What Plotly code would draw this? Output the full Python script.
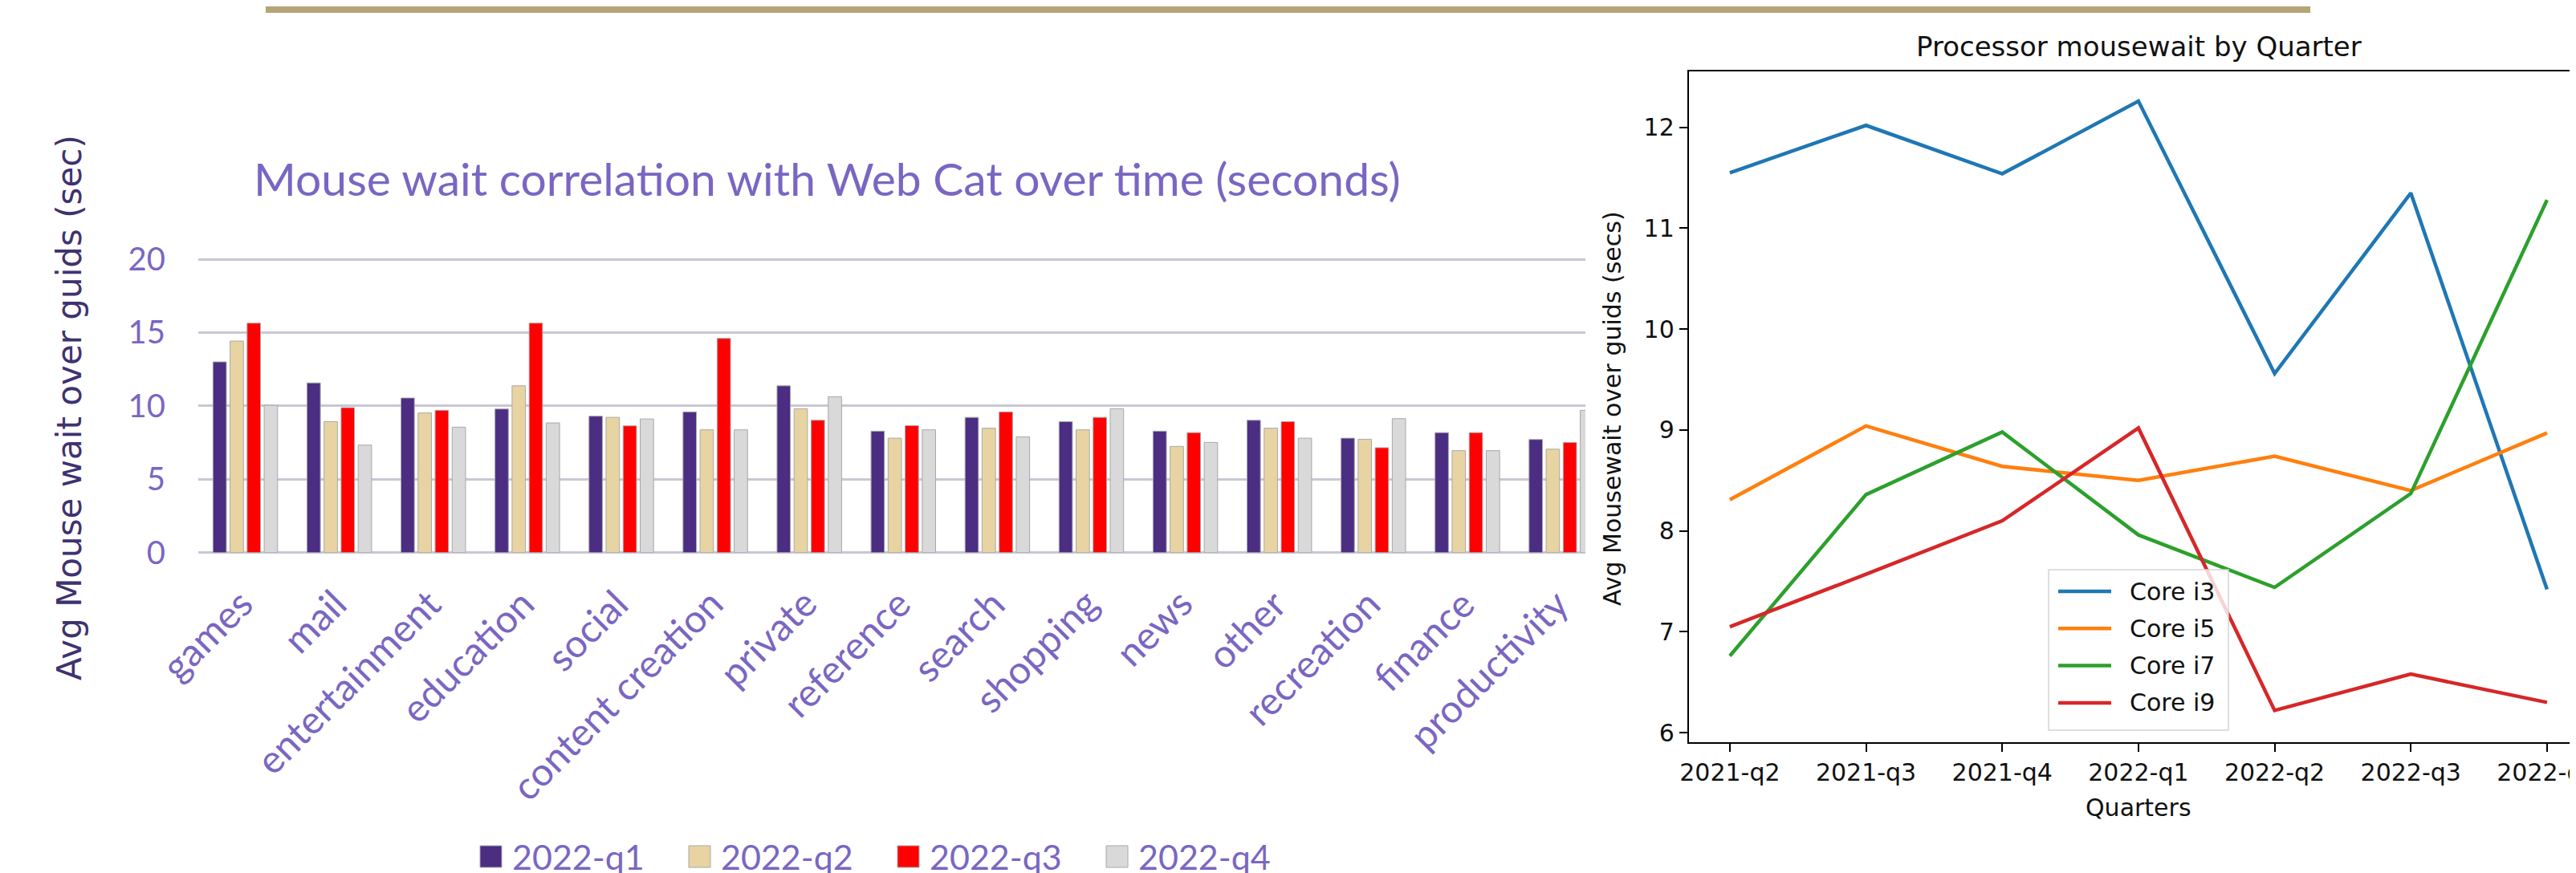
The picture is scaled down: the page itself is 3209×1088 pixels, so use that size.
import plotly.graph_objects as go

W, H = 3209, 1088

# ---------------- data: bar chart ----------------
categories = ["games", "mail", "entertainment", "education", "social", "content creation",
              "private", "reference", "search", "shopping", "news", "other", "recreation",
              "finance", "productivity"]
bar_series = ["2022-q1", "2022-q2", "2022-q3", "2022-q4"]
q1_vals = [13.0, 11.57, 10.54, 9.79, 9.30, 9.59, 11.37, 8.28, 9.22, 8.93, 8.28, 9.02, 7.80, 8.18, 7.71]
q2_vals = [14.42, 8.93, 9.52, 11.37, 9.22, 8.37, 9.81, 7.80, 8.48, 8.37, 7.24, 8.48, 7.73, 6.95, 7.05]
q3_vals = [15.64, 9.88, 9.70, 15.64, 8.64, 14.60, 9.02, 8.66, 9.59, 9.22, 8.18, 8.93, 7.15, 8.18, 7.51]
q4_vals = [10.04, 7.33, 8.55, 8.84, 9.11, 8.37, 10.63, 8.37, 7.89, 9.81, 7.51, 7.80, 9.13, 6.95, 9.70]
bar_values = [q1_vals, q2_vals, q3_vals, q4_vals]
bar_colors = ["#4b2d82", "#e8d4a2", "#ff0000", "#d9d9d9"]
bar_yticks = [0, 5, 10, 15, 20]

# ---------------- data: line chart ----------------
quarters = ["2021-q2", "2021-q3", "2021-q4", "2022-q1", "2022-q2", "2022-q3", "2022-q4"]
line_series = ["Core i3", "Core i5", "Core i7", "Core i9"]
core_i3 = [11.55, 12.02, 11.54, 12.26, 9.56, 11.35, 7.42]
core_i5 = [8.31, 9.04, 8.64, 8.50, 8.74, 8.40, 8.97]
core_i7 = [6.76, 8.36, 8.98, 7.96, 7.44, 8.37, 11.28]
core_i9 = [7.05, 7.57, 8.10, 9.02, 6.22, 6.58, 6.30]
line_values = [core_i3, core_i5, core_i7, core_i9]
line_colors = ["#1f77b4", "#ff7f0e", "#2ca02c", "#d62728"]
line_yticks = [6, 7, 8, 9, 10, 11, 12]


def px(x):
    return x / W


def py(y):
    return 1 - y / H


PURPLE = "#7a66c2"
DARKPURPLE = "#3f3270"
GRID = "#c9c7d5"

fig = go.Figure()

for name, vals, col in zip(bar_series, bar_values, bar_colors):
    fig.add_trace(go.Bar(
        x=categories, y=vals, name=name, marker=dict(color=col, line=dict(color="#a8a8a8", width=1)),
        xaxis="x", yaxis="y", showlegend=False,
    ))

for name, vals, col in zip(line_series, line_values, line_colors):
    fig.add_trace(go.Scatter(
        x=quarters, y=vals, name=name, mode="lines", line=dict(color=col, width=4.5),
        xaxis="x2", yaxis="y2", showlegend=False,
    ))

shapes = []
annotations = []

# decorative gold bar at top
shapes.append(dict(type="rect", xref="paper", yref="paper", x0=px(323), x1=px(2870), y0=py(8), y1=1,
                   fillcolor="#b5a476", line=dict(width=0), layer="below"))

# bar chart title
annotations.append(dict(text="Mouse wait correlation with Web Cat over time (seconds)", xref="paper", yref="paper",
                        x=px(1022), y=py(214), showarrow=False, xanchor="center", yanchor="middle",
                        font=dict(family="Lato", size=57, color=PURPLE)))
# bar chart y title
annotations.append(dict(text="Avg Mouse wait over guids (sec)", xref="paper", yref="paper",
                        x=px(79), y=py(500), showarrow=False, textangle=-90, xanchor="center", yanchor="middle",
                        font=dict(family="DejaVu Sans", size=42, color=DARKPURPLE)))

# category labels, rotated, anchored on the category axis
for cat in categories:
    annotations.append(dict(text=cat, xref="x", yref="paper", x=cat, y=py(712),
                            xshift=22, showarrow=False, textangle=-45, xanchor="right", yanchor="top",
                            font=dict(family="Lato", size=48, color=PURPLE)))

# bar chart legend (custom swatches)
for i, (name, col) in enumerate(zip(bar_series, bar_colors)):
    x0 = 590 + 260 * i
    shapes.append(dict(type="rect", xref="paper", yref="paper", x0=px(x0), x1=px(x0 + 27),
                       y0=py(1073), y1=py(1046), fillcolor=col, line=dict(color="#a8a8a8", width=1)))
    annotations.append(dict(text=name, xref="paper", yref="paper", x=px(x0 + 38), y=py(1059),
                            showarrow=False, xanchor="left", yanchor="middle",
                            font=dict(family="Lato", size=43, color=PURPLE)))

# line chart title
annotations.append(dict(text="Processor mousewait by Quarter", xref="paper", yref="paper",
                        x=px(2656), y=py(50), showarrow=False, xanchor="center", yanchor="middle",
                        font=dict(family="DejaVu Sans", size=34, color="#111111")))
# line chart y title
annotations.append(dict(text="Avg Mousewait over guids (secs)", xref="paper", yref="paper",
                        x=px(2000), y=py(501), showarrow=False, textangle=-90, xanchor="center", yanchor="middle",
                        font=dict(family="DejaVu Sans", size=30, color="#111111")))
# line chart x title
annotations.append(dict(text="Quarters", xref="paper", yref="paper",
                        x=px(2656), y=py(998), showarrow=False, xanchor="center", yanchor="middle",
                        font=dict(family="DejaVu Sans", size=30, color="#111111")))

# line chart legend (matplotlib style box)
shapes.append(dict(type="rect", xref="paper", yref="paper", x0=px(2544), x1=px(2768), y0=py(902), y1=py(702),
                   fillcolor="rgba(255,255,255,0.8)", line=dict(color="#d5d5d5", width=1.5), layer="above"))
for i, (name, col) in enumerate(zip(line_series, line_colors)):
    yc = 729 + 46.3 * i
    shapes.append(dict(type="line", xref="paper", yref="paper", x0=px(2556), x1=px(2622), y0=py(yc), y1=py(yc),
                       line=dict(color=col, width=4.5), layer="above"))
    annotations.append(dict(text=name, xref="paper", yref="paper", x=px(2643), y=py(yc),
                            showarrow=False, xanchor="left", yanchor="middle",
                            font=dict(family="DejaVu Sans", size=30, color="#111111")))

fig.update_layout(
    width=W, height=H,
    margin=dict(l=0, r=0, t=0, b=0),
    paper_bgcolor="white", plot_bgcolor="rgba(0,0,0,0)",
    barmode="group", bargap=0.274, bargroupgap=0.216,
    shapes=shapes, annotations=annotations,
    xaxis=dict(domain=[px(239), px(1967)], anchor="y", type="category", categoryorder="array",
               categoryarray=categories, range=[-0.5, 14.256], showgrid=False, showline=False,
               zeroline=False, ticks="", showticklabels=False, automargin=False),
    yaxis=dict(domain=[py(680.7), py(311.4)], anchor="x", range=[0, 20.2], tickvals=bar_yticks,
               showgrid=True, gridcolor=GRID, gridwidth=3, zeroline=True, zerolinecolor=GRID,
               zerolinewidth=3, showline=False, ticks="", automargin=False,
               tickfont=dict(family="Lato", size=40, color=PURPLE), ticklabelstandoff=40),
    xaxis2=dict(domain=[px(2096), 1], anchor="y2", type="category", categoryorder="array",
                categoryarray=quarters, range=[-0.3, 6.26], showgrid=False, zeroline=False,
                showline=True, mirror=True, linecolor="black", linewidth=2.4,
                ticks="outside", ticklen=10, tickwidth=2, tickcolor="black", automargin=False,
                ticklabeloverflow="allow",
                tickfont=dict(family="DejaVu Sans", size=30, color="#111111")),
    yaxis2=dict(domain=[py(917), py(81)], anchor="x2", range=[5.905, 12.555], tickvals=line_yticks,
                showgrid=False, zeroline=False, showline=True, mirror=False, linecolor="black",
                linewidth=2.4, ticks="outside", ticklen=10, tickwidth=2, tickcolor="black",
                automargin=False, tickfont=dict(family="DejaVu Sans", size=30, color="#111111")),
)

fig.write_html("out.html")
